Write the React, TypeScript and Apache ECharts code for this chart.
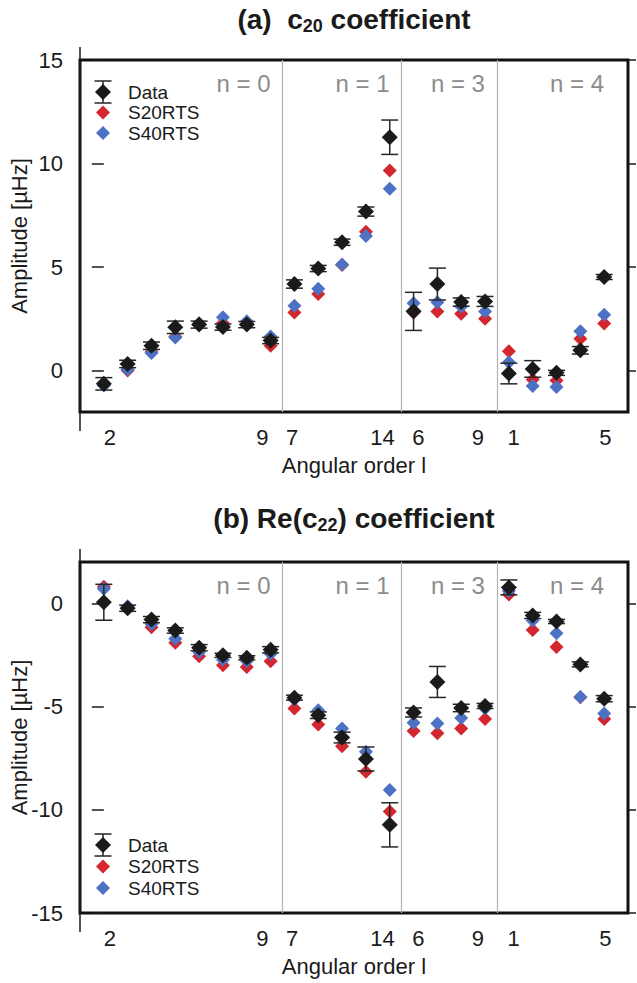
import React, { useEffect, useRef } from "react";
import * as echarts from "echarts";

// ---- data ----
const groupLabels = ["n = 0", "n = 1", "n = 3", "n = 4"];
const groupSizes = [8, 5, 4, 5];
const xTickPos = [0.25, 6.65, 7.9, 11.7, 13.2, 15.7, 17.2, 21.05];
const xTickLabels = ["2", "9", "7", "14", "6", "9", "1", "5"];
const yTicksA = [0, 5, 10, 15];
const yTicksB = [-15, -10, -5, 0];

const dataA = [-0.64, 0.32, 1.2, 2.09, 2.22, 2.1, 2.22, 1.45, 4.18, 4.93, 6.2, 7.68, 11.27, 2.86, 4.18, 3.31, 3.34, -0.14, 0.08, -0.11, 0.98, 4.52];
const errA = [0.3, 0.18, 0.18, 0.3, 0.17, 0.15, 0.15, 0.15, 0.2, 0.15, 0.15, 0.22, 0.83, 0.92, 0.77, 0.2, 0.24, 0.5, 0.4, 0.12, 0.18, 0.12];
const s20A = [-0.7, 0.0, 0.9, 1.65, 2.28, 2.3, 2.25, 1.2, 2.8, 3.7, 5.1, 6.7, 9.66, 2.8, 2.85, 2.75, 2.5, 0.93, -0.43, -0.48, 1.54, 2.27];
const s40A = [-0.72, 0.05, 0.85, 1.6, 2.25, 2.58, 2.38, 1.65, 3.13, 3.95, 5.12, 6.5, 8.78, 3.25, 3.3, 3.1, 2.85, 0.4, -0.75, -0.79, 1.9, 2.7];

const dataB = [0.05, -0.24, -0.79, -1.32, -2.15, -2.52, -2.64, -2.25, -4.57, -5.42, -6.5, -7.54, -10.73, -5.29, -3.81, -5.07, -4.97, 0.77, -0.59, -0.88, -2.96, -4.62];
const errB = [0.87, 0.15, 0.15, 0.13, 0.15, 0.1, 0.1, 0.15, 0.12, 0.16, 0.26, 0.58, 1.07, 0.22, 0.75, 0.18, 0.12, 0.36, 0.15, 0.1, 0.12, 0.15];
const s20B = [0.8, -0.2, -1.16, -1.91, -2.57, -3.0, -3.09, -2.81, -5.1, -5.87, -6.92, -8.16, -10.09, -6.19, -6.3, -6.06, -5.61, 0.42, -1.29, -2.12, -4.55, -5.61];
const s40B = [0.7, -0.14, -1.0, -1.72, -2.36, -2.73, -2.8, -2.44, -4.66, -5.18, -6.06, -7.19, -9.04, -5.79, -5.82, -5.55, -5.1, 0.6, -0.83, -1.45, -4.54, -5.34];

// ---- styles ----
const FONT = "'Liberation Sans', Arial, Helvetica, sans-serif";
const BLACK = "#1a1a1a";
const RED = "#d3262e";
const BLUE = "#4d72c3";
const GRAY_TEXT = "#8c8c8c";
const SEP = "#b4b4b4";

const GRIDS = [
  { left: 80, top: 60, width: 548, height: 352 },
  { left: 80, top: 562, width: 548, height: 351 },
];

const panels = [
  { data: dataA, err: errA, s20: s20A, s40: s40A, min: -2, max: 15, ticks: yTicksA },
  { data: dataB, err: errB, s20: s20B, s40: s40B, min: -15, max: 2, ticks: yTicksB },
];

const sepX: number[] = [];
const groupEnd: number[] = [];
{
  let c = 0;
  for (let i = 0; i < groupSizes.length; i++) {
    c += groupSizes[i];
    groupEnd.push(c - 0.5);
    if (i < groupSizes.length - 1) sepX.push(c - 0.5);
  }
}

function xLabel(v: number) {
  const i = xTickPos.findIndex((p) => Math.abs(p - v) < 1e-6);
  return i >= 0 ? xTickLabels[i] : "";
}

function buildOption() {
  const xAxis: any[] = [];
  const yAxis: any[] = [];
  const series: any[] = [];
  panels.forEach((p, k) => {
    xAxis.push({
      gridIndex: k,
      type: "value",
      min: -1,
      max: 22,
      axisLine: { show: false },
      axisTick: { show: false },
      splitLine: { show: false },
      axisLabel: {
        customValues: xTickPos,
        formatter: (v: number) => xLabel(v),
        fontSize: 22,
        color: BLACK,
        fontFamily: FONT,
        margin: 14,
      },
      name: "Angular order l",
      nameLocation: "middle",
      nameGap: 42,
      nameMoveOverlap: false,
      nameTextStyle: { fontSize: 22, color: BLACK, fontFamily: FONT },
    });
    yAxis.push({
      gridIndex: k,
      type: "value",
      min: p.min,
      max: p.max,
      position: "left",
      axisLine: { show: false },
      axisTick: { show: true, customValues: p.ticks, length: 12, lineStyle: { color: BLACK, width: 1.5 } },
      axisLabel: { customValues: p.ticks, fontSize: 22, color: BLACK, fontFamily: FONT, margin: 17 },
      splitLine: { show: false },
      name: "Amplitude [µHz]",
      nameLocation: "middle",
      nameGap: 50,
      nameMoveOverlap: false,
      nameTextStyle: { fontSize: 22, color: BLACK, fontFamily: FONT },
    });
    yAxis.push({
      gridIndex: k,
      type: "value",
      min: p.min,
      max: p.max,
      position: "right",
      axisLine: { show: false },
      axisTick: { show: true, customValues: p.ticks, length: 8, lineStyle: { color: BLACK, width: 1.5 } },
      axisLabel: { show: false },
      splitLine: { show: false },
    });
    const yi = 2 * k;
    series.push({
      type: "scatter",
      xAxisIndex: k,
      yAxisIndex: yi,
      symbol: "diamond",
      symbolSize: 14,
      itemStyle: { color: RED, opacity: 1 },
      data: p.s20.map((v, i) => [i, v]),
      z: 2,
      markLine: {
        silent: true,
        symbol: ["none", "none"],
        label: { show: false },
        lineStyle: { color: SEP, width: 1.2, type: "solid" },
        data: sepX.map((x) => ({ xAxis: x })),
      },
    });
    series.push({
      type: "scatter",
      xAxisIndex: k,
      yAxisIndex: yi,
      symbol: "diamond",
      symbolSize: 14,
      itemStyle: { color: BLUE, opacity: 1 },
      data: p.s40.map((v, i) => [i, v]),
      z: 3,
    });
    series.push({
      type: "custom",
      xAxisIndex: k,
      yAxisIndex: yi,
      z: 4,
      data: p.data.map((v, i) => [i, v - p.err[i], v + p.err[i]]),
      encode: { x: 0, y: [1, 2] },
      renderItem: (params: any, api: any) => {
        const x = api.value(0);
        const lo = api.coord([x, api.value(1)]);
        const hi = api.coord([x, api.value(2)]);
        const hw = 8.5;
        const st = { stroke: "#262626", lineWidth: 1.5 };
        return {
          type: "group",
          children: [
            { type: "line", shape: { x1: lo[0], y1: lo[1], x2: hi[0], y2: hi[1] }, style: st },
            { type: "line", shape: { x1: lo[0] - hw, y1: lo[1], x2: lo[0] + hw, y2: lo[1] }, style: st },
            { type: "line", shape: { x1: hi[0] - hw, y1: hi[1], x2: hi[0] + hw, y2: hi[1] }, style: st },
          ],
        };
      },
    });
    series.push({
      type: "scatter",
      xAxisIndex: k,
      yAxisIndex: yi,
      symbol: "diamond",
      symbolSize: 16,
      itemStyle: { color: BLACK, opacity: 1 },
      data: p.data.map((v, i) => [i, v]),
      z: 5,
    });
  });

  return {
    animation: false,
    backgroundColor: "#ffffff",
    grid: GRIDS.map((g) => ({
      ...g,
      show: true,
      borderColor: "#111",
      borderWidth: 3,
      backgroundColor: "transparent",
      containLabel: false,
      outerBoundsMode: "none",
    })),
    xAxis,
    yAxis,
    series,
  };
}

function legendGraphics(y0: number, gap: number) {
  const els: any[] = [];
  const cx = 103;
  const tx = 128;
  const items = [
    { name: "Data", color: BLACK, err: true, size: 16 },
    { name: "S20RTS", color: RED, err: false, size: 14 },
    { name: "S40RTS", color: BLUE, err: false, size: 14 },
  ];
  items.forEach((it, i) => {
    const cy = y0 + i * gap;
    if (it.err) {
      const st = { stroke: "#262626", lineWidth: 1.5 };
      els.push({ type: "line", shape: { x1: cx, y1: cy - 11, x2: cx, y2: cy + 11 }, style: st, z: 10 });
      els.push({ type: "line", shape: { x1: cx - 8.5, y1: cy - 11, x2: cx + 8.5, y2: cy - 11 }, style: st, z: 10 });
      els.push({ type: "line", shape: { x1: cx - 8.5, y1: cy + 11, x2: cx + 8.5, y2: cy + 11 }, style: st, z: 10 });
    }
    const h = it.size / 2;
    els.push({
      type: "polygon",
      shape: { points: [[cx, cy - h], [cx + h, cy], [cx, cy + h], [cx - h, cy]] },
      style: { fill: it.color },
      z: 11,
    });
    els.push({
      type: "text",
      x: tx,
      y: cy,
      style: { text: it.name, fill: BLACK, font: `19px ${FONT}`, align: "left", verticalAlign: "middle" },
      z: 11,
    });
  });
  return els;
}

function titleGraphic(x: number, y: number, text: string) {
  return {
    type: "text",
    x,
    y,
    style: {
      text,
      align: "center",
      verticalAlign: "middle",
      rich: {
        t: { fontSize: 28, fontWeight: "bold", fontFamily: FONT, fill: BLACK, lineHeight: 32 },
        s: { fontSize: 18, fontWeight: "bold", fontFamily: FONT, fill: BLACK, lineHeight: 14, verticalAlign: "bottom" },
      },
    },
  };
}

export default function App() {
  const ref = useRef<HTMLDivElement>(null);
  useEffect(() => {
    document.body.style.margin = "0";
    if (!ref.current) return;
    const chart = echarts.init(ref.current, undefined, { renderer: "svg" });
    chart.setOption(buildOption());

    const graphic: any[] = [];
    graphic.push(titleGraphic(354, 19, "{t|(a)  c}{s|20}{t| coefficient}"));
    graphic.push(titleGraphic(354, 518, "{t|(b) Re(c}{s|22}{t|) coefficient}"));

    GRIDS.forEach((g, k) => {
      graphic.push({
        type: "line",
        shape: { x1: g.left, y1: g.top - 13, x2: g.left, y2: g.top + g.height + 19 },
        style: { stroke: BLACK, lineWidth: 1.5 },
      });
      groupLabels.forEach((lab, i) => {
        const px = chart.convertToPixel({ gridIndex: k } as any, [groupEnd[i], 0]) as number[];
        graphic.push({
          type: "text",
          x: px[0] - 12,
          y: g.top + 23,
          style: { text: lab, fill: GRAY_TEXT, font: `24px ${FONT}`, align: "right", verticalAlign: "middle" },
        });
      });
    });
    graphic.push(...legendGraphics(92, 20.5));
    graphic.push(...legendGraphics(845, 21.5));

    chart.setOption({ graphic });
    return () => chart.dispose();
  }, []);
  return <div ref={ref} style={{ width: 637, height: 983 }} />;
}
